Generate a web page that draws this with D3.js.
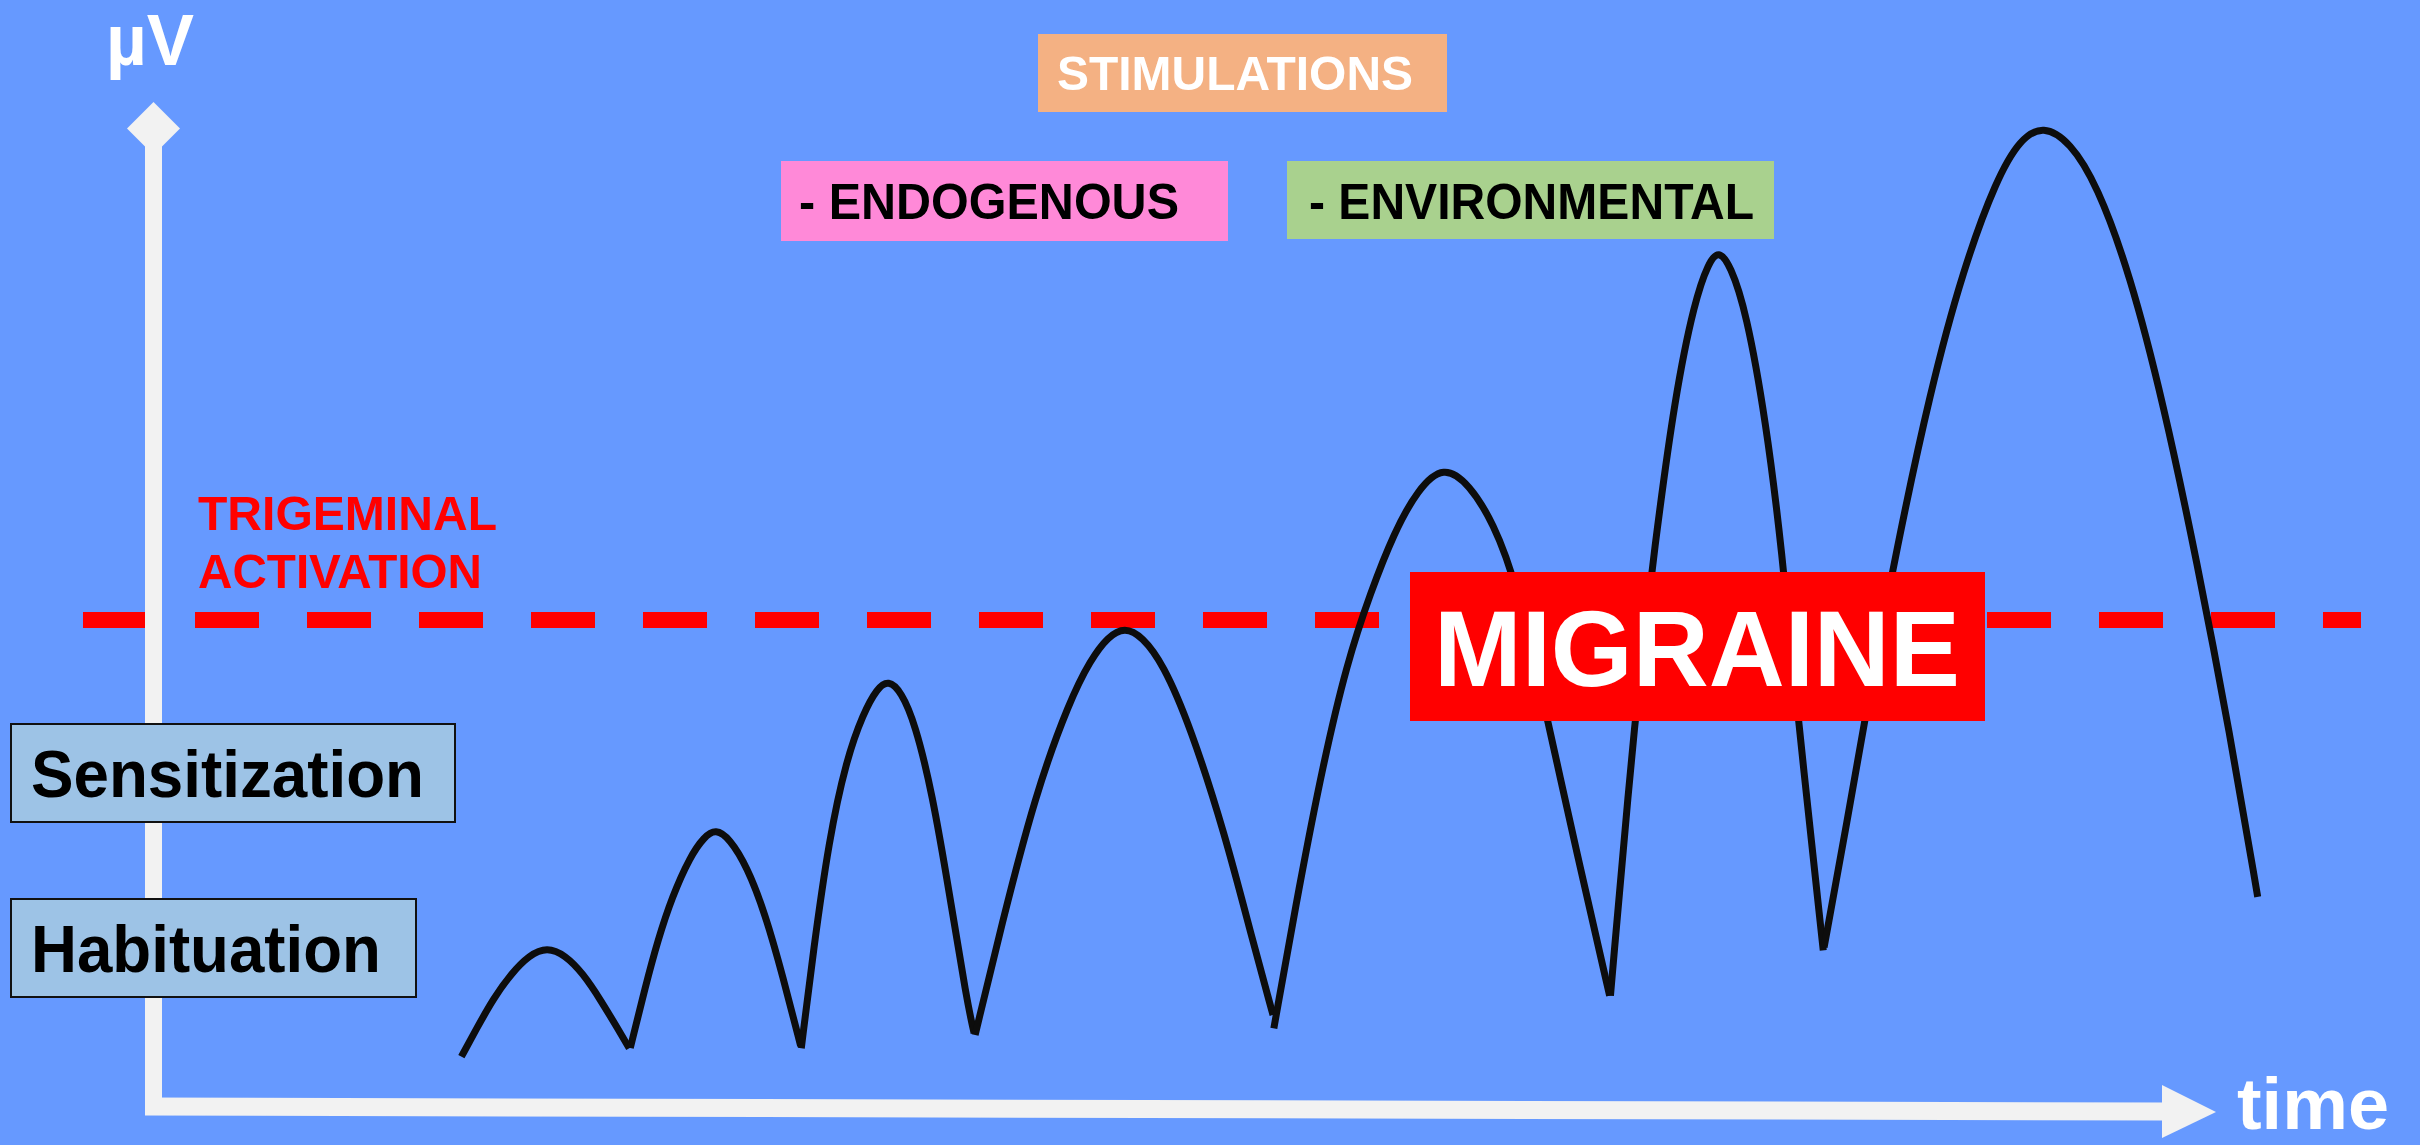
<!DOCTYPE html>
<html>
<head>
<meta charset="utf-8">
<script src="https://cdn.jsdelivr.net/npm/d3@7"></script>
<style>
  html, body { margin: 0; padding: 0; background: #6699ff; }
  svg { display: block; }
  text { font-family: "Liberation Sans", Arial, sans-serif; font-weight: bold; }
</style>
</head>
<body>
<svg id="chart" width="2420" height="1145"></svg>
<script>
// ---------------- data (time units 0..100, µV units 0..100) ----------------
const hump1_t = [14.97, 15.67, 16.53, 17.40, 18.27, 19.13, 20.00, 20.87, 21.73, 22.60, 23.12];
const hump1_v = [5.03, 7.7, 10.87, 13.37, 15.2, 16.0, 15.2, 13.37, 10.7, 7.7, 5.87];

const hump2_t = [23.17, 23.90, 24.51, 25.20, 26.07, 26.76, 27.32, 27.98, 28.84, 29.71, 30.58, 31.44];
const hump2_v = [5.9, 12.03, 16.7, 21.03, 25.03, 27.03, 27.8, 26.87, 24.03, 19.37, 13.03, 6.1];

const hump3_t = [31.47, 32.06, 32.81, 33.65, 34.48, 35.15, 35.70, 36.32, 36.99, 37.83, 38.66, 39.50, 39.86];
const hump3_v = [5.87, 15.7, 26.7, 34.7, 39.37, 41.87, 42.7, 41.53, 38.37, 31.37, 21.37, 10.7, 7.37];

const hump4_t = [39.91, 41.17, 42.84, 44.51, 45.51, 46.35, 47.18, 48.02, 49.02, 50.36, 52.03, 53.37, 54.37];
const hump4_v = [7.2, 18.03, 31.37, 40.7, 44.7, 47.03, 48.0, 47.03, 44.37, 38.03, 27.37, 16.7, 9.2];

const hump5_t = [54.41, 55.65, 56.80, 57.95, 59.10, 60.25, 61.40, 62.65, 63.90, 65.05, 66.20, 67.74, 69.08, 70.71];
const hump5_v = [7.87, 22.2, 34.3, 44.37, 51.43, 57.47, 61.76, 64.2, 62.26, 58.48, 52.44, 38.33, 25.74, 11.13];

const hump6_t = [70.75, 71.96, 72.92, 73.88, 74.84, 75.51, 76.00, 76.57, 77.33, 78.30, 79.06, 79.83, 81.08];
const hump6_v = [11.13, 39.84, 56.47, 71.08, 80.65, 84.43, 85.7, 84.17, 79.64, 68.56, 55.96, 39.34, 15.66];

const hump7_t = [81.12, 82.22, 83.35, 84.64, 86.26, 87.88, 89.50, 90.63, 91.76, 93.06, 94.36, 95.97, 97.59, 99.21, 100.83, 102.17];
const hump7_v = [15.96, 28.31, 41.78, 55.81, 71.52, 83.86, 92.84, 96.77, 98.2, 96.49, 92.28, 83.3, 70.4, 54.68, 37.29, 21.01];

const thresholdV = 48.7;   // trigeminal activation level

const yAxisLabel = "µV";
const xAxisLabel = "time";
const thresholdLabel = ["TRIGEMINAL", "ACTIVATION"];
const stimTitle = "STIMULATIONS";
const stimLabels = ["- ENDOGENOUS", "- ENVIRONMENTAL"];
const stateLabels = ["Sensitization", "Habituation"];
const migraineLabel = "MIGRAINE";

// ---------------- layout ----------------
const svg = d3.select("#chart");
const W = 2420, H = 1145;
const x = d3.scaleLinear().domain([0, 100]).range([153, 2213]);
const y = d3.scaleLinear().domain([0, 100]).range([1107, 107]);

svg.append("rect").attr("width", W).attr("height", H).attr("fill", "#6699ff");

// threshold dashed line
svg.append("line")
  .attr("x1", 83).attr("x2", 2361)
  .attr("y1", y(thresholdV)).attr("y2", y(thresholdV))
  .attr("stroke", "#ff0000").attr("stroke-width", 16)
  .attr("stroke-dasharray", "64 48");

// axes
const axisColor = "#f2f2f2";
svg.append("rect").attr("x", 145).attr("y", 140).attr("width", 17).attr("height", 973).attr("fill", axisColor);
svg.append("path").attr("d", "M153.5,102 L180,128.5 L153.5,155 L127,128.5 Z").attr("fill", axisColor);
svg.append("line").attr("x1", 145).attr("y1", 1106.5).attr("x2", 2168).attr("y2", 1111.5)
  .attr("stroke", axisColor).attr("stroke-width", 18);
svg.append("path").attr("d", "M2162,1085 L2216,1112 L2162,1138 Z").attr("fill", axisColor);

svg.append("text").attr("x", 106).attr("y", 65).attr("font-size", 72)
  .attr("textLength", 88).attr("lengthAdjust", "spacingAndGlyphs")
  .attr("fill", "#ffffff").text(yAxisLabel);
svg.append("text").attr("x", 2237).attr("y", 1129).attr("font-size", 73)
  .attr("textLength", 152).attr("lengthAdjust", "spacingAndGlyphs")
  .attr("fill", "#ffffff").text(xAxisLabel);

// curve
const humps = [
  [hump1_t, hump1_v], [hump2_t, hump2_v], [hump3_t, hump3_v], [hump4_t, hump4_v],
  [hump5_t, hump5_v], [hump6_t, hump6_v], [hump7_t, hump7_v]
];
const line = d3.line().x(d => x(d[0])).y(d => y(d[1])).curve(d3.curveBasis);
svg.append("g").selectAll("path").data(humps).join("path")
  .attr("d", h => line(h[0].map((t, i) => [t, h[1][i]])))
  .attr("fill", "none").attr("stroke", "#0d0d0d").attr("stroke-width", 7)
  .attr("stroke-linecap", "butt").attr("stroke-linejoin", "round");

// threshold label
thresholdLabel.forEach((s, i) => {
  svg.append("text").attr("x", 198).attr("y", 530 + i * 58).attr("font-size", 49)
    .attr("textLength", i === 0 ? 299 : 284).attr("lengthAdjust", "spacingAndGlyphs")
    .attr("fill", "#ff0000").text(s);
});

// stimulation boxes
svg.append("rect").attr("x", 1038).attr("y", 34).attr("width", 409).attr("height", 78).attr("fill", "#f4b183");
svg.append("text").attr("x", 1057).attr("y", 90).attr("font-size", 49)
  .attr("textLength", 356).attr("lengthAdjust", "spacingAndGlyphs")
  .attr("fill", "#ffffff").text(stimTitle);

svg.append("rect").attr("x", 781).attr("y", 161).attr("width", 447).attr("height", 80).attr("fill", "#ff89d8");
svg.append("text").attr("x", 799).attr("y", 219).attr("font-size", 50)
  .attr("textLength", 380).attr("lengthAdjust", "spacingAndGlyphs")
  .attr("fill", "#000000").text(stimLabels[0]);

svg.append("rect").attr("x", 1287).attr("y", 161).attr("width", 487).attr("height", 78).attr("fill", "#a9d18e");
svg.append("text").attr("x", 1309).attr("y", 219).attr("font-size", 50)
  .attr("textLength", 445).attr("lengthAdjust", "spacingAndGlyphs")
  .attr("fill", "#000000").text(stimLabels[1]);

// state boxes
const stateBoxes = [
  {y: 724, w: 444, tl: 393},
  {y: 899, w: 405, tl: 350}
];
stateLabels.forEach((s, i) => {
  const b = stateBoxes[i];
  svg.append("rect").attr("x", 11).attr("y", b.y).attr("width", b.w).attr("height", 98)
    .attr("fill", "#9dc3e6").attr("stroke", "#111111").attr("stroke-width", 2);
  svg.append("text").attr("x", 31).attr("y", b.y + 73).attr("font-size", 66)
    .attr("textLength", b.tl).attr("lengthAdjust", "spacingAndGlyphs")
    .attr("fill", "#000000").text(s);
});

// migraine box
svg.append("rect").attr("x", 1410).attr("y", 572).attr("width", 575).attr("height", 149).attr("fill", "#ff0000");
svg.append("text").attr("x", 1434).attr("y", 686).attr("font-size", 107)
  .attr("textLength", 526).attr("lengthAdjust", "spacingAndGlyphs")
  .attr("fill", "#ffffff").text(migraineLabel);
</script>
</body>
</html>
